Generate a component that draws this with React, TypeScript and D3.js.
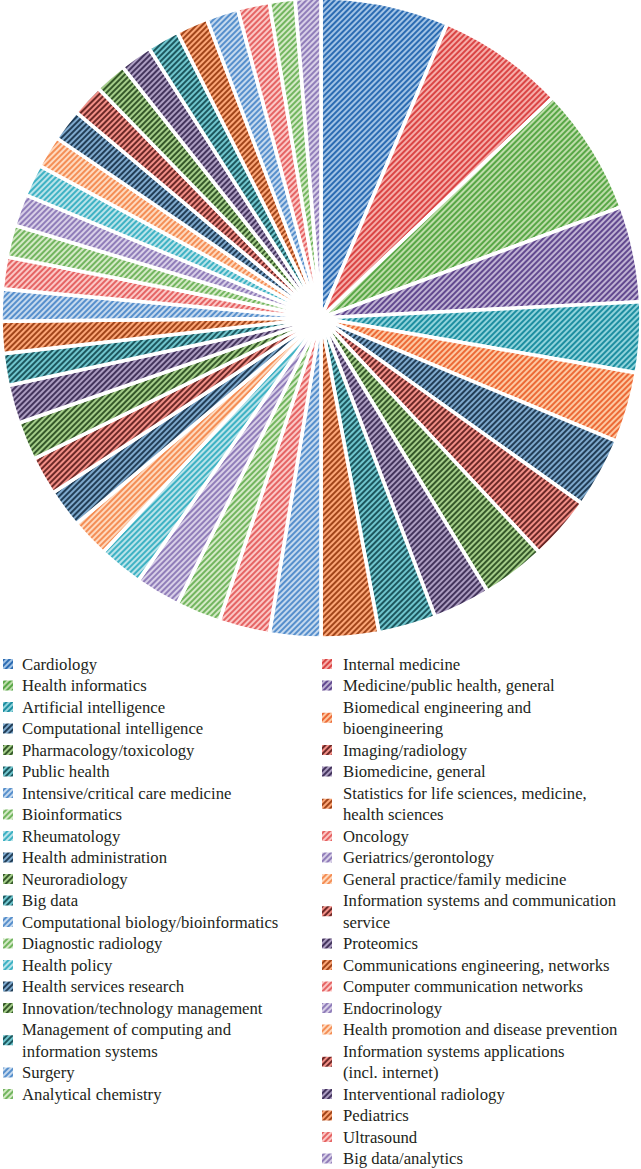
import React from "react";
import * as d3 from "d3";

const categories: string[] = [
  "Cardiology",
  "Internal medicine",
  "Health informatics",
  "Medicine/public health, general",
  "Artificial intelligence",
  "Biomedical engineering and\nbioengineering",
  "Computational intelligence",
  "Imaging/radiology",
  "Pharmacology/toxicology",
  "Biomedicine, general",
  "Public health",
  "Statistics for life sciences, medicine,\nhealth sciences",
  "Intensive/critical care medicine",
  "Oncology",
  "Bioinformatics",
  "Geriatrics/gerontology",
  "Rheumatology",
  "General practice/family medicine",
  "Health administration",
  "Information systems and communication\nservice",
  "Neuroradiology",
  "Proteomics",
  "Big data",
  "Communications engineering, networks",
  "Computational biology/bioinformatics",
  "Computer communication networks",
  "Diagnostic radiology",
  "Endocrinology",
  "Health policy",
  "Health promotion and disease prevention",
  "Health services research",
  "Information systems applications\n(incl. internet)",
  "Innovation/technology management",
  "Interventional radiology",
  "Management of computing and\ninformation systems",
  "Pediatrics",
  "Surgery",
  "Ultrasound",
  "Analytical chemistry",
  "Big data/analytics",
];

const values: number[] = [
  20, 20, 20, 15, 11, 11, 11, 10, 10, 9, 9, 9, 8, 8, 7, 7, 7, 6, 6, 6, 6, 6,
  5, 5, 5, 5, 5, 5, 5, 5, 5, 5, 5, 5, 5, 5, 5, 5, 4, 4,
];

// hue order: blue, red, green, purple, cyan, orange
const mediumFill = ["#a2c3e5", "#f6aca8", "#bddca9", "#bfb2d3", "#90d3db", "#fdc8a2"];
const mediumLine = ["#0d55a5", "#d32a2b", "#3e9a2d", "#4a2e7e", "#007d92", "#e8521b"];
const darkFill = ["#7ea9cd", "#f28f87", "#a4cd89", "#ac9dc1", "#6fc5cd", "#fca677"];
const darkLine = ["#0a2238", "#4a0e0e", "#183a10", "#291943", "#073b42", "#8a2c02"];
const lightFill = ["#c5d9ee", "#fbc7c5", "#d4e9c6", "#d8cfe7", "#bae3e9", "#fed9be"];
const lightLine = ["#3a7cc4", "#e04b4b", "#5aa845", "#7e69ae", "#1fa6bb", "#f27b3b"];

function colorsFor(i: number) {
  if (i < 6) return { fill: mediumFill[i], line: mediumLine[i] };
  const k = (i - 6) % 12;
  if (k < 6) return { fill: darkFill[k], line: darkLine[k] };
  return { fill: lightFill[k - 6], line: lightLine[k - 6] };
}

export default function App() {
  const W = 641;
  const H = 1169;
  const cx = 321;
  const cy = 318;
  const R = 320;

  const pie = d3.pie<number>().sort(null).value((d) => d);
  const arcs = pie(values);
  const arc = d3
    .arc<d3.PieArcDatum<number>>()
    .innerRadius(0)
    .outerRadius(R);

  const legendTop = 664;
  const step = 21.5;
  const colX = [3, 322];
  const textX = [22, 343];
  const lineCount = [0, 0];
  const legendItems = categories.map((c, i) => {
    const col = i % 2;
    const lines = c.split("\n");
    const start = lineCount[col];
    lineCount[col] += lines.length;
    const yc = legendTop + (start + (lines.length - 1) / 2) * step;
    return { c, i, col, lines, start, yc };
  });

  return (
    <svg
      width={W}
      height={H}
      style={{ position: "absolute", left: 0, top: 0, background: "#fff" }}
    >
      <defs>
        {categories.map((_, i) => {
          const col = colorsFor(i);
          return (
            <pattern
              key={i}
              id={`hatch${i}`}
              patternUnits="userSpaceOnUse"
              width={4}
              height={4}
              patternTransform="rotate(45)"
            >
              <rect width={4} height={4} fill={col.fill} />
              <line x1={1} y1={0} x2={1} y2={4} stroke={col.line} strokeWidth={1.6} />
            </pattern>
          );
        })}
      </defs>
      <g transform={`translate(${cx},${cy})`}>
        {arcs.map((a, i) => (
          <path
            key={i}
            d={arc(a) || ""}
            fill={`url(#hatch${i})`}
            stroke="#ffffff"
            strokeWidth={3.6}
            strokeLinejoin="round"
          />
        ))}
      </g>
      <g fontFamily="'Liberation Serif', 'DejaVu Serif', serif" fontSize={16.7} fill="#231f20">
        {legendItems.map((it) => (
          <g key={it.i}>
            <rect
              x={colX[it.col]}
              y={it.yc - 5}
              width={10}
              height={10}
              fill={`url(#hatch${it.i})`}
            />
            {it.lines.map((ln, k) => (
              <text
                key={k}
                x={textX[it.col]}
                y={legendTop + (it.start + k) * step + 5.5}
              >
                {ln}
              </text>
            ))}
          </g>
        ))}
      </g>
    </svg>
  );
}
